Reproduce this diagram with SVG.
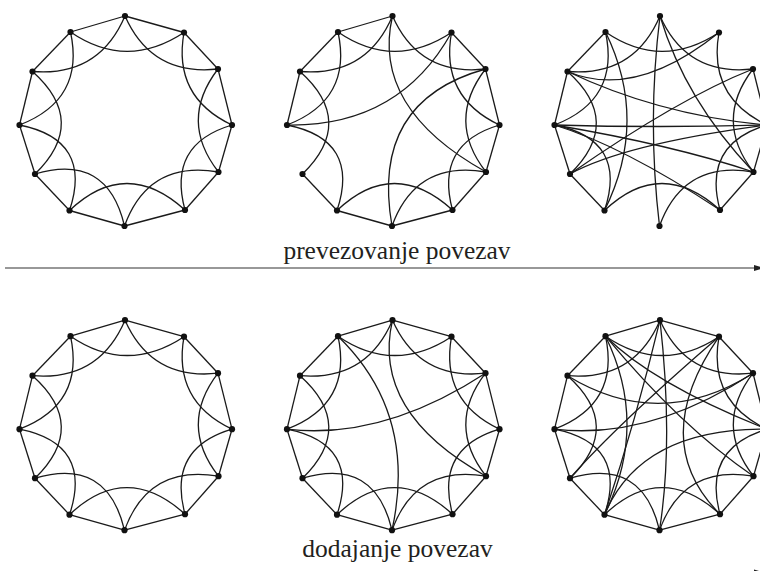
<svg xmlns="http://www.w3.org/2000/svg" xmlns:xlink="http://www.w3.org/1999/xlink" width="760" height="571" viewBox="0 0 760 571">
<style>
.e path, .e use, defs path { fill:none; stroke:#1a1a1a; stroke-width:1.3; }
.n circle { fill:#111; }
.lbl { font-family:"Liberation Serif","Times New Roman",serif; font-size:25.5px; fill:#231f20; text-anchor:middle; }
.ax { stroke:#333; stroke-width:1.2; fill:none; }
</style>
<defs>
<path id="s0" d="M125 16L184 32.5"/>
<path id="s1" d="M184 32.5L218 69"/>
<path id="s2" d="M218 69L232 125"/>
<path id="s3" d="M232 125L218.5 172"/>
<path id="s4" d="M218.5 172L185 210"/>
<path id="s5" d="M185 210L124.5 226"/>
<path id="s6" d="M124.5 226L69.5 210.5"/>
<path id="s7" d="M69.5 210.5L35 174"/>
<path id="s8" d="M35 174L19.5 125"/>
<path id="s9" d="M19.5 125L32.5 71.5"/>
<path id="s10" d="M32.5 71.5L70.5 32"/>
<path id="s11" d="M70.5 32L125 16"/>
<path id="a0" d="M125 16Q151.7 76.3 218 69"/>
<path id="a1" d="M184 32.5Q172.5 96.9 232 125"/>
<path id="a2" d="M218 69Q178.4 120.7 218.5 172"/>
<path id="a3" d="M232 125Q167 144.25 185 210"/>
<path id="a4" d="M218.5 172Q148.5 160 124.5 226"/>
<path id="a5" d="M185 210Q126.2 156.7 69.5 210.5"/>
<path id="a6" d="M124.5 226Q107.2 152.6 35 174"/>
<path id="a7" d="M69.5 210.5Q93.1 139.7 19.5 125"/>
<path id="a8" d="M35 174Q88.8 121.7 32.5 71.5"/>
<path id="a9" d="M19.5 125Q85.25 99.75 70.5 32"/>
<path id="a10" d="M32.5 71.5Q98.9 77 125 16"/>
<path id="a11" d="M70.5 32Q126.5 70.4 184 32.5"/>
<g id="ring">
<use href="#s0"/><use href="#s1"/><use href="#s2"/><use href="#s3"/><use href="#s4"/><use href="#s5"/><use href="#s6"/><use href="#s7"/><use href="#s8"/><use href="#s9"/><use href="#s10"/><use href="#s11"/>
<use href="#a0"/><use href="#a1"/><use href="#a2"/><use href="#a3"/><use href="#a4"/><use href="#a5"/><use href="#a6"/><use href="#a7"/><use href="#a8"/><use href="#a9"/><use href="#a10"/><use href="#a11"/>
</g>
</defs>

<!-- Graph 1: regular -->
<g id="graph1">
<g id="g1-edges" class="e"><use href="#ring"/></g>
<g class="n">
<g id="g1-n0"><circle cx="125" cy="16" r="3.1"/></g>
<g id="g1-n1"><circle cx="184" cy="32.5" r="3.1"/></g>
<g id="g1-n2"><circle cx="218" cy="69" r="3.1"/></g>
<g id="g1-n3"><circle cx="232" cy="125" r="3.1"/></g>
<g id="g1-n4"><circle cx="218.5" cy="172" r="3.1"/></g>
<g id="g1-n5"><circle cx="185" cy="210" r="3.1"/></g>
<g id="g1-n6"><circle cx="124.5" cy="226" r="3.1"/></g>
<g id="g1-n7"><circle cx="69.5" cy="210.5" r="3.1"/></g>
<g id="g1-n8"><circle cx="35" cy="174" r="3.1"/></g>
<g id="g1-n9"><circle cx="19.5" cy="125" r="3.1"/></g>
<g id="g1-n10"><circle cx="32.5" cy="71.5" r="3.1"/></g>
<g id="g1-n11"><circle cx="70.5" cy="32" r="3.1"/></g>
</g>
</g>

<!-- Graph 2: few rewired -->
<g id="graph2" transform="translate(267.5,0)">
<g id="g2-edges" class="e">
<use href="#s1"/><use href="#s2"/><use href="#s3"/><use href="#s4"/><use href="#s5"/><use href="#s6"/><use href="#s7"/><use href="#s9"/><use href="#s10"/><use href="#s11"/>
<use href="#a0"/><use href="#a1"/><use href="#a2"/><use href="#a3"/><use href="#a4"/><use href="#a5"/><use href="#a7"/><use href="#a8"/><use href="#a9"/><use href="#a10"/><use href="#a11"/>
<path d="M125 16Q103.5 108 218.5 172"/>
<path d="M19.5 125Q131.5 127 184 32.5"/>
<path d="M218 69Q102.5 101 124.5 226"/>
</g>
<g class="n">
<g id="g2-n0"><circle cx="125" cy="16" r="3.1"/></g>
<g id="g2-n1"><circle cx="184" cy="32.5" r="3.1"/></g>
<g id="g2-n2"><circle cx="218" cy="69" r="3.1"/></g>
<g id="g2-n3"><circle cx="232" cy="125" r="3.1"/></g>
<g id="g2-n4"><circle cx="218.5" cy="172" r="3.1"/></g>
<g id="g2-n5"><circle cx="185" cy="210" r="3.1"/></g>
<g id="g2-n6"><circle cx="124.5" cy="226" r="3.1"/></g>
<g id="g2-n7"><circle cx="69.5" cy="210.5" r="3.1"/></g>
<g id="g2-n8"><circle cx="35" cy="174" r="3.1"/></g>
<g id="g2-n9"><circle cx="19.5" cy="125" r="3.1"/></g>
<g id="g2-n10"><circle cx="32.5" cy="71.5" r="3.1"/></g>
<g id="g2-n11"><circle cx="70.5" cy="32" r="3.1"/></g>
</g>
</g>

<!-- Graph 3: many rewired -->
<g id="graph3" transform="translate(535,0)">
<g id="g3-edges" class="e">
<use href="#s2"/><use href="#s3"/><use href="#s4"/><use href="#s7"/><use href="#s8"/><use href="#s9"/><use href="#s10"/>
<use href="#a0"/><use href="#a1"/><use href="#a2"/><use href="#a3"/><use href="#a4"/><use href="#a5"/><use href="#a7"/><use href="#a8"/><use href="#a9"/><use href="#a10"/><use href="#a11"/>
<path d="M125 16Q112 121 124.5 226"/>
<path d="M125 16Q150 100 218.5 172"/>
<path d="M32.5 71.5Q100 100 184 32.5"/>
<path d="M32.5 71.5Q124.4 115.2 232 125"/>
<path d="M19.5 125Q125 128 232 125"/>
<path d="M19.5 125Q137.6 144.9 218.5 172"/>
<path d="M19.5 125Q87.75 145.9 185 210"/>
<path d="M35 174Q143.5 98.5 218 69"/>
<path d="M35 174Q89.9 143.9 232 125"/>
<path d="M70.5 32Q114 120.75 69.5 210.5"/>
</g>
<g class="n">
<g id="g3-n0"><circle cx="125" cy="16" r="3.1"/></g>
<g id="g3-n1"><circle cx="184" cy="32.5" r="3.1"/></g>
<g id="g3-n2"><circle cx="218" cy="69" r="3.1"/></g>
<g id="g3-n3"><circle cx="232" cy="125" r="3.1"/></g>
<g id="g3-n4"><circle cx="218.5" cy="172" r="3.1"/></g>
<g id="g3-n5"><circle cx="185" cy="210" r="3.1"/></g>
<g id="g3-n6"><circle cx="124.5" cy="226" r="3.1"/></g>
<g id="g3-n7"><circle cx="69.5" cy="210.5" r="3.1"/></g>
<g id="g3-n8"><circle cx="35" cy="174" r="3.1"/></g>
<g id="g3-n9"><circle cx="19.5" cy="125" r="3.1"/></g>
<g id="g3-n10"><circle cx="32.5" cy="71.5" r="3.1"/></g>
<g id="g3-n11"><circle cx="70.5" cy="32" r="3.1"/></g>
</g>
</g>

<!-- Graph 4: regular -->
<g id="graph4" transform="translate(0,304.2)">
<g id="g4-edges" class="e"><use href="#ring"/></g>
<g class="n">
<g id="g4-n0"><circle cx="125" cy="16" r="3.1"/></g>
<g id="g4-n1"><circle cx="184" cy="32.5" r="3.1"/></g>
<g id="g4-n2"><circle cx="218" cy="69" r="3.1"/></g>
<g id="g4-n3"><circle cx="232" cy="125" r="3.1"/></g>
<g id="g4-n4"><circle cx="218.5" cy="172" r="3.1"/></g>
<g id="g4-n5"><circle cx="185" cy="210" r="3.1"/></g>
<g id="g4-n6"><circle cx="124.5" cy="226" r="3.1"/></g>
<g id="g4-n7"><circle cx="69.5" cy="210.5" r="3.1"/></g>
<g id="g4-n8"><circle cx="35" cy="174" r="3.1"/></g>
<g id="g4-n9"><circle cx="19.5" cy="125" r="3.1"/></g>
<g id="g4-n10"><circle cx="32.5" cy="71.5" r="3.1"/></g>
<g id="g4-n11"><circle cx="70.5" cy="32" r="3.1"/></g>
</g>
</g>

<!-- Graph 5: few added -->
<g id="graph5" transform="translate(267.5,304.2)">
<g id="g5-edges" class="e">
<use href="#ring"/>
<path d="M125 16Q103.5 108 218.5 172"/>
<path d="M70.5 32Q150.2 109.3 124.5 226"/>
<path d="M19.5 125Q115 136 218 69"/>
</g>
<g class="n">
<g id="g5-n0"><circle cx="125" cy="16" r="3.1"/></g>
<g id="g5-n1"><circle cx="184" cy="32.5" r="3.1"/></g>
<g id="g5-n2"><circle cx="218" cy="69" r="3.1"/></g>
<g id="g5-n3"><circle cx="232" cy="125" r="3.1"/></g>
<g id="g5-n4"><circle cx="218.5" cy="172" r="3.1"/></g>
<g id="g5-n5"><circle cx="185" cy="210" r="3.1"/></g>
<g id="g5-n6"><circle cx="124.5" cy="226" r="3.1"/></g>
<g id="g5-n7"><circle cx="69.5" cy="210.5" r="3.1"/></g>
<g id="g5-n8"><circle cx="35" cy="174" r="3.1"/></g>
<g id="g5-n9"><circle cx="19.5" cy="125" r="3.1"/></g>
<g id="g5-n10"><circle cx="32.5" cy="71.5" r="3.1"/></g>
<g id="g5-n11"><circle cx="70.5" cy="32" r="3.1"/></g>
</g>
</g>

<!-- Graph 6: many added -->
<g id="graph6" transform="translate(535,304.2)">
<g id="g6-edges" class="e">
<use href="#ring"/>
<path d="M70.5 32Q146 123 218.5 172"/>
<path d="M70.5 32Q118.75 79.9 232 125"/>
<path d="M70.5 32Q114 120.75 69.5 210.5"/>
<path d="M125 16Q100 120 69.5 210.5"/>
<path d="M125 16Q138.6 137 124.5 226"/>
<path d="M32.5 71.5Q124.75 128 218 69"/>
<path d="M19.5 125Q115 136 218 69"/>
<path d="M69.5 210.5Q105.9 123.9 232 125"/>
<path d="M35 174Q80.5 121.75 184 32.5"/>
<path d="M185 210Q112.1 137 184 32.5"/>
</g>
<g class="n">
<g id="g6-n0"><circle cx="125" cy="16" r="3.1"/></g>
<g id="g6-n1"><circle cx="184" cy="32.5" r="3.1"/></g>
<g id="g6-n2"><circle cx="218" cy="69" r="3.1"/></g>
<g id="g6-n3"><circle cx="232" cy="125" r="3.1"/></g>
<g id="g6-n4"><circle cx="218.5" cy="172" r="3.1"/></g>
<g id="g6-n5"><circle cx="185" cy="210" r="3.1"/></g>
<g id="g6-n6"><circle cx="124.5" cy="226" r="3.1"/></g>
<g id="g6-n7"><circle cx="69.5" cy="210.5" r="3.1"/></g>
<g id="g6-n8"><circle cx="35" cy="174" r="3.1"/></g>
<g id="g6-n9"><circle cx="19.5" cy="125" r="3.1"/></g>
<g id="g6-n10"><circle cx="32.5" cy="71.5" r="3.1"/></g>
<g id="g6-n11"><circle cx="70.5" cy="32" r="3.1"/></g>
</g>
</g>

<g id="axes">
<line class="ax" x1="5" y1="268" x2="758" y2="268"/>
<polygon points="754,265 764,268 754,271" fill="#222"/>
<line class="ax" x1="5" y1="572.5" x2="758" y2="572.5"/>
<polygon points="754,569.5 764,572.5 754,575.5" fill="#222"/>
</g>
<text class="lbl" x="397" y="259">prevezovanje povezav</text>
<text class="lbl" x="397.5" y="557">dodajanje povezav</text>
</svg>
